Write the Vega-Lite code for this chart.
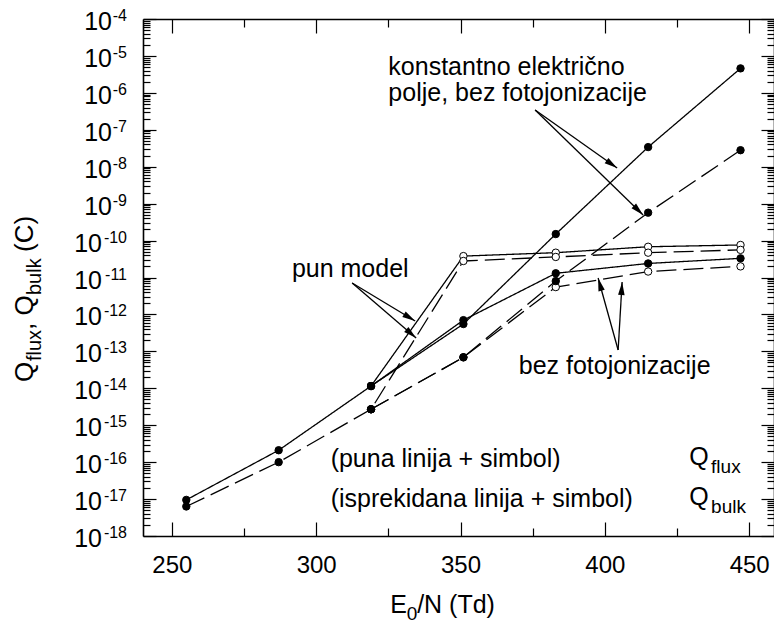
{
  "$schema": "https://vega.github.io/schema/vega-lite/v6.json",
  "width": 631,
  "height": 517,
  "autosize": {"type": "none"},
  "padding": {"left": 143, "top": 19, "right": 0, "bottom": 97},
  "background": "white",
  "config": {
    "view": {"stroke": null},
    "font": "Liberation Sans",
    "axis": {"domainColor": "black", "domainWidth": 1.6, "tickColor": "black", "tickWidth": 1.2, "grid": false, "labelFont": "Liberation Sans", "labelFontSize": 24, "labelColor": "black"}
  },
  "datasets": {
    "curves": [
      {"s": "A", "q": "flux", "E": 255, "Q": 9.5e-18, "m": "filled"},
      {"s": "A", "q": "flux", "E": 287, "Q": 2.1e-16, "m": "filled"},
      {"s": "A", "q": "flux", "E": 319, "Q": 1.15e-14, "m": "filled"},
      {"s": "A", "q": "flux", "E": 351, "Q": 3.8e-11, "m": "open"},
      {"s": "A", "q": "flux", "E": 383, "Q": 4.7e-11, "m": "open"},
      {"s": "A", "q": "flux", "E": 415, "Q": 6.8e-11, "m": "open"},
      {"s": "A", "q": "flux", "E": 447, "Q": 7.6e-11, "m": "open"},
      {"s": "B", "q": "bulk", "E": 255, "Q": 6.3e-18, "m": "filled"},
      {"s": "B", "q": "bulk", "E": 287, "Q": 1.0e-16, "m": "filled"},
      {"s": "B", "q": "bulk", "E": 319, "Q": 2.7e-15, "m": "filled"},
      {"s": "B", "q": "bulk", "E": 351, "Q": 2.8e-11, "m": "open"},
      {"s": "B", "q": "bulk", "E": 383, "Q": 3.6e-11, "m": "open"},
      {"s": "B", "q": "bulk", "E": 415, "Q": 4.7e-11, "m": "open"},
      {"s": "B", "q": "bulk", "E": 447, "Q": 5.6e-11, "m": "open"},
      {"s": "D", "q": "bulk", "E": 319, "Q": 2.7e-15, "m": "filled"},
      {"s": "D", "q": "bulk", "E": 351, "Q": 6.9e-14, "m": "filled"},
      {"s": "D", "q": "bulk", "E": 383, "Q": 5.5e-12, "m": "open"},
      {"s": "D", "q": "bulk", "E": 415, "Q": 1.45e-11, "m": "open"},
      {"s": "D", "q": "bulk", "E": 447, "Q": 2.0e-11, "m": "open"},
      {"s": "C", "q": "flux", "E": 319, "Q": 1.15e-14, "m": "filled"},
      {"s": "C", "q": "flux", "E": 351, "Q": 7.0e-13, "m": "filled"},
      {"s": "C", "q": "flux", "E": 383, "Q": 1.3e-11, "m": "filled"},
      {"s": "C", "q": "flux", "E": 415, "Q": 2.4e-11, "m": "filled"},
      {"s": "C", "q": "flux", "E": 447, "Q": 3.3e-11, "m": "filled"},
      {"s": "E", "q": "flux", "E": 319, "Q": 1.15e-14, "m": "filled"},
      {"s": "E", "q": "flux", "E": 351, "Q": 5.5e-13, "m": "filled"},
      {"s": "E", "q": "flux", "E": 383, "Q": 1.5e-10, "m": "filled"},
      {"s": "E", "q": "flux", "E": 415, "Q": 3.4e-8, "m": "filled"},
      {"s": "E", "q": "flux", "E": 447, "Q": 4.6e-6, "m": "filled"},
      {"s": "F", "q": "bulk", "E": 319, "Q": 2.7e-15, "m": "filled"},
      {"s": "F", "q": "bulk", "E": 351, "Q": 6.9e-14, "m": "filled"},
      {"s": "F", "q": "bulk", "E": 383, "Q": 8.0e-12, "m": "filled"},
      {"s": "F", "q": "bulk", "E": 415, "Q": 5.7e-10, "m": "filled"},
      {"s": "F", "q": "bulk", "E": 447, "Q": 2.8e-8, "m": "filled"}
    ],
    "arrows": [
      {"id": "k1", "x1": 375.85, "y1": 3.43e-7, "x2": 404.26, "y2": 9.2e-9},
      {"id": "k2", "x1": 375.85, "y1": 3.43e-7, "x2": 413.26, "y2": 4.93e-10},
      {"id": "p1", "x1": 312.46, "y1": 7.1e-12, "x2": 334.28, "y2": 6.64e-13},
      {"id": "p2", "x1": 312.46, "y1": 7.1e-12, "x2": 334.63, "y2": 2.3e-13},
      {"id": "b1", "x1": 404.6, "y1": 1.09e-13, "x2": 397.67, "y2": 9.7e-12},
      {"id": "b2", "x1": 404.6, "y1": 1.09e-13, "x2": 405.98, "y2": 7.55e-12}
    ],
    "ylab": [
      {"v": 1e-4, "e": "-4"}, {"v": 1e-5, "e": "-5"}, {"v": 1e-6, "e": "-6"}, {"v": 1e-7, "e": "-7"}, {"v": 1e-8, "e": "-8"}, {"v": 1e-9, "e": "-9"},
      {"v": 1e-10, "e": "-10"}, {"v": 1e-11, "e": "-11"}, {"v": 1e-12, "e": "-12"}, {"v": 1e-13, "e": "-13"}, {"v": 1e-14, "e": "-14"},
      {"v": 1e-15, "e": "-15"}, {"v": 1e-16, "e": "-16"}, {"v": 1e-17, "e": "-17"}, {"v": 1e-18, "e": "-18"}
    ],
    "annL": [
      {"t": "konstantno električno", "x": 325.0, "y": 3.05e-6},
      {"t": "polje, bez fotojonizacije", "x": 325.0, "y": 6.03e-7},
      {"t": "(puna linija + simbol)", "x": 305.0, "y": 7.4e-17},
      {"t": "(isprekidana linija + simbol)", "x": 305.0, "y": 6.11e-18},
      {"t": "Q", "x": 429.2, "y": 8.38e-17},
      {"t": "Q", "x": 429.2, "y": 6.92e-18},
      {"t": "E", "x": 325.62, "y": 8.24e-21},
      {"t": "/N (Td)", "x": 334.97, "y": 8.24e-21}
    ],
    "annC": [
      {"t": "pun model", "x": 311.8, "y": 1.03e-11},
      {"t": "bez fotojonizacije", "x": 403.4, "y": 2.44e-14}
    ],
    "annS": [
      {"t": "flux", "x": 436.8, "y": 5.09e-17},
      {"t": "bulk", "x": 436.8, "y": 4.2e-18},
      {"t": "0", "x": 331.34, "y": 5.32e-21}
    ],
    "ytBig": [
      {"t": "Q", "x": 201.95, "y": 1.483e-14},
      {"t": ", Q", "x": 201.95, "y": 3.79e-13},
      {"t": "(C)", "x": 201.95, "y": 4.91e-11}
    ],
    "ytSub": [
      {"t": "flux", "x": 204.72, "y": 5.48e-14},
      {"t": "bulk", "x": 204.72, "y": 3.357e-12}
    ]
  },
  "resolve": {"axis": {"x": "independent", "y": "independent"}},
  "layer": [
    {
      "data": {"name": "curves"},
      "mark": {"type": "line", "color": "black", "strokeWidth": 1.3},
      "encoding": {
        "x": {"field": "E", "type": "quantitative", "scale": {"domain": [240, 458.6], "nice": false, "zero": false},
          "axis": {"orient": "bottom", "title": null, "values": [250, 275, 300, 325, 350, 375, 400, 425, 450],
            "tickSize": {"condition": {"test": "datum.value % 50 == 0", "value": -14}, "value": -8},
            "labelExpr": "datum.value % 50 == 0 ? datum.label : ''", "labelPadding": 31}},
        "y": {"field": "Q", "type": "quantitative", "scale": {"type": "log", "domain": [1e-18, 1e-4], "nice": false},
          "axis": {"orient": "left", "title": null, "labels": false,
            "values": [1e-18,2e-18,3e-18,4e-18,5e-18,6e-18,7e-18,8e-18,9e-18,1e-17,2e-17,3e-17,4e-17,5e-17,6e-17,7e-17,8e-17,9e-17,1e-16,2e-16,3e-16,4e-16,5e-16,6e-16,7e-16,8e-16,9e-16,1e-15,2e-15,3e-15,4e-15,5e-15,6e-15,7e-15,8e-15,9e-15,1e-14,2e-14,3e-14,4e-14,5e-14,6e-14,7e-14,8e-14,9e-14,1e-13,2e-13,3e-13,4e-13,5e-13,6e-13,7e-13,8e-13,9e-13,1e-12,2e-12,3e-12,4e-12,5e-12,6e-12,7e-12,8e-12,9e-12,1e-11,2e-11,3e-11,4e-11,5e-11,6e-11,7e-11,8e-11,9e-11,1e-10,2e-10,3e-10,4e-10,5e-10,6e-10,7e-10,8e-10,9e-10,1e-9,2e-9,3e-9,4e-9,5e-9,6e-9,7e-9,8e-9,9e-9,1e-8,2e-8,3e-8,4e-8,5e-8,6e-8,7e-8,8e-8,9e-8,1e-7,2e-7,3e-7,4e-7,5e-7,6e-7,7e-7,8e-7,9e-7,1e-6,2e-6,3e-6,4e-6,5e-6,6e-6,7e-6,8e-6,9e-6,1e-5,2e-5,3e-5,4e-5,5e-5,6e-5,7e-5,8e-5,9e-5,1e-4],
            "tickSize": {"condition": {"test": "abs(log(datum.value)/LN10 - round(log(datum.value)/LN10)) < 0.000001", "value": -13}, "value": -7}}},
        "detail": {"field": "s"},
        "strokeDash": {"field": "q", "type": "nominal", "scale": {"domain": ["flux", "bulk"], "range": [[1, 0], [20, 7]]}, "legend": null}
      }
    },
    {
      "data": {"name": "curves"},
      "mark": {"type": "point", "shape": "circle", "filled": true, "stroke": "black", "strokeWidth": 1, "size": 55, "opacity": 1},
      "encoding": {
        "x": {"field": "E", "type": "quantitative",
          "axis": {"orient": "top", "title": null, "labels": false, "values": [250, 275, 300, 325, 350, 375, 400, 425, 450],
            "tickSize": {"condition": {"test": "datum.value % 50 == 0", "value": -14}, "value": -8}}},
        "y": {"field": "Q", "type": "quantitative",
          "axis": {"orient": "right", "title": null, "labels": false,
            "values": [1e-18,2e-18,3e-18,4e-18,5e-18,6e-18,7e-18,8e-18,9e-18,1e-17,2e-17,3e-17,4e-17,5e-17,6e-17,7e-17,8e-17,9e-17,1e-16,2e-16,3e-16,4e-16,5e-16,6e-16,7e-16,8e-16,9e-16,1e-15,2e-15,3e-15,4e-15,5e-15,6e-15,7e-15,8e-15,9e-15,1e-14,2e-14,3e-14,4e-14,5e-14,6e-14,7e-14,8e-14,9e-14,1e-13,2e-13,3e-13,4e-13,5e-13,6e-13,7e-13,8e-13,9e-13,1e-12,2e-12,3e-12,4e-12,5e-12,6e-12,7e-12,8e-12,9e-12,1e-11,2e-11,3e-11,4e-11,5e-11,6e-11,7e-11,8e-11,9e-11,1e-10,2e-10,3e-10,4e-10,5e-10,6e-10,7e-10,8e-10,9e-10,1e-9,2e-9,3e-9,4e-9,5e-9,6e-9,7e-9,8e-9,9e-9,1e-8,2e-8,3e-8,4e-8,5e-8,6e-8,7e-8,8e-8,9e-8,1e-7,2e-7,3e-7,4e-7,5e-7,6e-7,7e-7,8e-7,9e-7,1e-6,2e-6,3e-6,4e-6,5e-6,6e-6,7e-6,8e-6,9e-6,1e-5,2e-5,3e-5,4e-5,5e-5,6e-5,7e-5,8e-5,9e-5,1e-4],
            "tickSize": {"condition": {"test": "abs(log(datum.value)/LN10 - round(log(datum.value)/LN10)) < 0.000001", "value": -13}, "value": -7}}},
        "fill": {"field": "m", "type": "nominal", "scale": {"domain": ["filled", "open"], "range": ["black", "white"]}, "legend": null}
      }
    },
    {
      "data": {"name": "arrows"},
      "mark": {"type": "rule", "color": "black", "strokeWidth": 1.3},
      "encoding": {
        "x": {"field": "x1", "type": "quantitative", "axis": null},
        "y": {"field": "y1", "type": "quantitative", "axis": null},
        "x2": {"field": "x2"},
        "y2": {"field": "y2"}
      }
    },
    {"data": {"name": "arrows"}, "transform": [{"filter": "datum.id == 'k1'"}],
      "mark": {"type": "point", "shape": "M0,0L-1,-0.25L-1,0.25Z", "filled": true, "color": "black", "opacity": 1, "size": 676, "angle": 35.3},
      "encoding": {"x": {"field": "x2", "type": "quantitative", "axis": null}, "y": {"field": "y2", "type": "quantitative", "axis": null}}},
    {"data": {"name": "arrows"}, "transform": [{"filter": "datum.id == 'k2'"}],
      "mark": {"type": "point", "shape": "M0,0L-1,-0.25L-1,0.25Z", "filled": true, "color": "black", "opacity": 1, "size": 676, "angle": 44.2},
      "encoding": {"x": {"field": "x2", "type": "quantitative", "axis": null}, "y": {"field": "y2", "type": "quantitative", "axis": null}}},
    {"data": {"name": "arrows"}, "transform": [{"filter": "datum.id == 'p1'"}],
      "mark": {"type": "point", "shape": "M0,0L-1,-0.25L-1,0.25Z", "filled": true, "color": "black", "opacity": 1, "size": 676, "angle": 31.1},
      "encoding": {"x": {"field": "x2", "type": "quantitative", "axis": null}, "y": {"field": "y2", "type": "quantitative", "axis": null}}},
    {"data": {"name": "arrows"}, "transform": [{"filter": "datum.id == 'p2'"}],
      "mark": {"type": "point", "shape": "M0,0L-1,-0.25L-1,0.25Z", "filled": true, "color": "black", "opacity": 1, "size": 676, "angle": 40.7},
      "encoding": {"x": {"field": "x2", "type": "quantitative", "axis": null}, "y": {"field": "y2", "type": "quantitative", "axis": null}}},
    {"data": {"name": "arrows"}, "transform": [{"filter": "datum.id == 'b1'"}],
      "mark": {"type": "point", "shape": "M0,0L-1,-0.25L-1,0.25Z", "filled": true, "color": "black", "opacity": 1, "size": 676, "angle": 254.5},
      "encoding": {"x": {"field": "x2", "type": "quantitative", "axis": null}, "y": {"field": "y2", "type": "quantitative", "axis": null}}},
    {"data": {"name": "arrows"}, "transform": [{"filter": "datum.id == 'b2'"}],
      "mark": {"type": "point", "shape": "M0,0L-1,-0.25L-1,0.25Z", "filled": true, "color": "black", "opacity": 1, "size": 676, "angle": 273.4},
      "encoding": {"x": {"field": "x2", "type": "quantitative", "axis": null}, "y": {"field": "y2", "type": "quantitative", "axis": null}}},
    {
      "data": {"name": "ylab"},
      "mark": {"type": "text", "align": "right", "baseline": "alphabetic", "dx": -16, "dy": 2, "fontSize": 16, "color": "black"},
      "encoding": {"x": {"datum": 240, "type": "quantitative", "axis": null}, "y": {"field": "v", "type": "quantitative", "axis": null}, "text": {"field": "e"}}
    },
    {
      "data": {"name": "ylab"}, "transform": [{"filter": "length(datum.e) == 2"}],
      "mark": {"type": "text", "align": "right", "baseline": "alphabetic", "dx": -31, "dy": 11, "fontSize": 25, "color": "black"},
      "encoding": {"x": {"datum": 240, "type": "quantitative", "axis": null}, "y": {"field": "v", "type": "quantitative", "axis": null}, "text": {"value": "10"}}
    },
    {
      "data": {"name": "ylab"}, "transform": [{"filter": "length(datum.e) == 3"}],
      "mark": {"type": "text", "align": "right", "baseline": "alphabetic", "dx": -41, "dy": 11, "fontSize": 25, "color": "black"},
      "encoding": {"x": {"datum": 240, "type": "quantitative", "axis": null}, "y": {"field": "v", "type": "quantitative", "axis": null}, "text": {"value": "10"}}
    },
    {
      "data": {"name": "annL"},
      "mark": {"type": "text", "align": "left", "baseline": "alphabetic", "fontSize": 25, "color": "black"},
      "encoding": {"x": {"field": "x", "type": "quantitative", "axis": null}, "y": {"field": "y", "type": "quantitative", "axis": null}, "text": {"field": "t"}}
    },
    {
      "data": {"name": "annC"},
      "mark": {"type": "text", "align": "center", "baseline": "alphabetic", "fontSize": 25, "color": "black"},
      "encoding": {"x": {"field": "x", "type": "quantitative", "axis": null}, "y": {"field": "y", "type": "quantitative", "axis": null}, "text": {"field": "t"}}
    },
    {
      "data": {"name": "annS"},
      "mark": {"type": "text", "align": "left", "baseline": "alphabetic", "fontSize": 19, "color": "black"},
      "encoding": {"x": {"field": "x", "type": "quantitative", "axis": null}, "y": {"field": "y", "type": "quantitative", "axis": null}, "text": {"field": "t"}}
    },
    {
      "data": {"name": "ytBig"},
      "mark": {"type": "text", "align": "left", "baseline": "alphabetic", "angle": 270, "fontSize": 26, "color": "black"},
      "encoding": {"x": {"field": "x", "type": "quantitative", "axis": null}, "y": {"field": "y", "type": "quantitative", "axis": null}, "text": {"field": "t"}}
    },
    {
      "data": {"name": "ytSub"},
      "mark": {"type": "text", "align": "left", "baseline": "alphabetic", "angle": 270, "fontSize": 20, "color": "black"},
      "encoding": {"x": {"field": "x", "type": "quantitative", "axis": null}, "y": {"field": "y", "type": "quantitative", "axis": null}, "text": {"field": "t"}}
    }
  ]
}
